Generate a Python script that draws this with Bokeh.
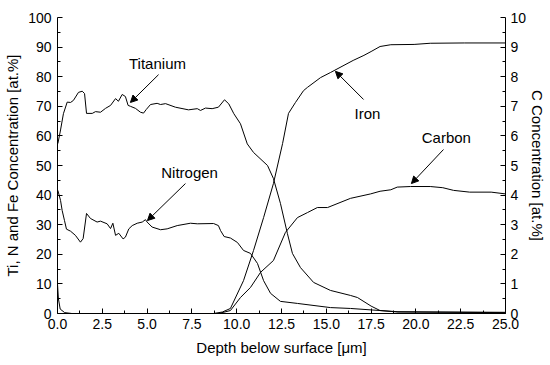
from bokeh.plotting import figure
from bokeh.models import (Range1d, LinearAxis, FixedTicker, PrintfTickFormatter,
                          Arrow, NormalHead, Label)
from bokeh.embed import file_html
from bokeh.resources import INLINE

# ---------------- data ----------------
ti_x = [0.02, 0.17, 0.33, 0.54, 0.73, 0.89, 1.17, 1.38, 1.51, 1.62, 1.94, 2.12, 2.40, 2.68,
        2.96, 3.24, 3.40, 3.61, 3.79, 3.94, 4.07, 4.35, 4.63, 4.80, 4.95, 5.19, 5.56, 5.75,
        6.03, 6.58, 7.31, 7.80, 7.98, 8.26, 8.63, 8.98, 9.32, 9.56, 9.84, 10.21, 10.59,
        10.94, 11.72, 12.05, 12.44, 12.83, 13.11, 13.56, 14.29, 15.23, 16.35, 16.74, 17.5,
        18.0, 19.0, 25.0]
ti_y = [57.4, 62.0, 67.5, 71.4, 71.3, 72.0, 74.7, 75.1, 74.3, 67.6, 67.6, 68.2, 68.0, 69.3,
        70.3, 72.6, 71.7, 74.0, 73.3, 70.3, 70.0, 69.3, 68.0, 67.7, 68.9, 70.6, 71.0, 70.6,
        70.9, 69.7, 68.8, 69.2, 68.6, 69.4, 69.2, 69.7, 72.2, 70.8, 67.5, 64.1, 57.3,
        54.4, 50.0, 45.6, 37.2, 27.0, 20.3, 15.5, 10.5, 7.8, 6.1, 5.4, 2.5,
        1.0, 0.5, 0.3]

n_x = [0.02, 0.17, 0.26, 0.39, 0.50, 0.73, 1.00, 1.28, 1.43, 1.62, 1.84, 2.21, 2.40, 2.77,
       2.96, 3.09, 3.24, 3.42, 3.66, 3.79, 3.98, 4.17, 4.45, 4.73, 4.91, 5.00, 5.28, 5.75,
       6.12, 6.68, 7.42, 7.80, 8.71, 8.98, 9.10, 9.30, 9.65, 10.04, 10.38, 10.77, 11.16,
       11.50, 11.89, 12.44, 13.39, 15.23, 16.35, 18.0, 19.0, 25.0]
n_y = [41.6, 38.2, 34.8, 31.4, 28.5, 27.8, 26.4, 24.1, 25.3, 33.8, 32.1, 30.9, 31.2, 30.3,
       28.7, 30.5, 26.4, 27.1, 25.2, 25.8, 28.6, 29.7, 30.5, 30.9, 31.7, 30.9, 29.2, 28.3,
       28.6, 29.7, 30.5, 30.3, 30.4, 29.7, 28.0, 26.0, 25.5, 24.0, 21.3, 20.3, 16.9,
       11.1, 6.8, 4.1, 3.4, 2.0, 1.7, 1.0, 0.6, 0.4]

fe_x = [0.0, 8.7, 9.2, 9.65, 10.38, 10.94, 11.50, 12.05, 12.56, 12.89, 13.28, 13.73, 13.95,
        14.68, 15.23, 16.5, 17.1, 17.5, 18.0, 18.6, 19.9, 20.8, 22.7, 25.0]
fe_y = [0.0, 0.0, 0.5, 1.7, 11.1, 21.3, 32.4, 43.9, 57.4, 67.6, 71.3, 75.3, 76.4,
        79.7, 81.4, 85.5, 87.2, 88.5, 90.2, 90.8, 90.9, 91.3, 91.4, 91.4]

c_x = [0.0, 0.05, 0.15, 0.40, 0.80, 9.0, 9.65, 10.21, 10.77, 11.33, 12.05, 12.72, 13.39,
       13.95, 14.5, 15.07, 16.35, 17.47, 18.0, 18.6, 18.96, 19.7, 20.8, 21.5, 22.1, 23.0,
       24.2, 25.0]
c_y = [1.0, 0.5, 0.15, 0.03, 0.0, 0.0, 0.1, 0.54, 0.88, 1.39, 1.79, 2.74, 3.24,
       3.41, 3.58, 3.58, 3.89, 4.04, 4.13, 4.18, 4.27, 4.29, 4.29, 4.25, 4.16, 4.10,
       4.10, 4.04]

x_ticks = [0, 2.5, 5, 7.5, 10, 12.5, 15, 17.5, 20, 22.5, 25]
y_ticks = [0, 10, 20, 30, 40, 50, 60, 70, 80, 90, 100]
c_ticks = [0, 1, 2, 3, 4, 5, 6, 7, 8, 9, 10]

names = ["Titanium", "Nitrogen", "Iron", "Carbon"]
label_pos = [(5.58, 84.5), (7.37, 47.6), (17.3, 67.6), (21.7, 59.5)]
arrow_from = [(5.64, 80.7), (7.14, 43.9), (17.08, 72.3), (21.54, 55.4)]
arrow_to = [(4.07, 71.3), (5.02, 31.4), (15.51, 81.8), (19.75, 43.9)]

# ---------------- figure ----------------
FONT = "Liberation Sans"
p = figure(width=550, height=365, output_backend="svg", toolbar_location=None,
           x_range=Range1d(0, 25), y_range=Range1d(0, 100),
           min_border_left=57, min_border_right=45, min_border_top=17, min_border_bottom=52)
p.outline_line_color = None
p.grid.visible = False
p.background_fill_color = "white"
p.border_fill_color = "white"
p.extra_y_ranges = {"c": Range1d(0, 10)}

def style(ax, title):
    ax.axis_label = title
    ax.axis_label_text_font = FONT
    ax.axis_label_text_font_size = "15px"
    ax.axis_label_text_font_style = "normal"
    ax.axis_label_text_color = "black"
    ax.major_label_text_font = FONT
    ax.major_label_text_font_size = "14px"
    ax.major_label_text_color = "black"
    ax.axis_line_color = "black"
    ax.major_tick_line_color = "black"
    ax.minor_tick_line_color = "black"
    ax.major_tick_in = 5
    ax.major_tick_out = 0
    ax.minor_tick_in = 3
    ax.minor_tick_out = 0
    ax.major_label_standoff = 6
    ax.axis_label_standoff = 4

xa = p.xaxis[0]
xa.ticker = FixedTicker(ticks=x_ticks, minor_ticks=[t + 1.25 for t in x_ticks[:-1]])
xa.formatter = PrintfTickFormatter(format="%.1f")
style(xa, "Depth below surface [μm]")
xa.major_label_standoff = 5
xa.axis_label_standoff = 7

ya = p.yaxis[0]
ya.ticker = FixedTicker(ticks=y_ticks, minor_ticks=[t + 5 for t in y_ticks[:-1]])
style(ya, "Ti, N and Fe Concentration [at.%]")

ra = LinearAxis(y_range_name="c")
ra.ticker = FixedTicker(ticks=c_ticks, minor_ticks=[t + 0.5 for t in c_ticks[:-1]])
style(ra, "C Concentration [at.%]")
ra.major_label_standoff = 5
ra.axis_label_standoff = 0
p.add_layout(ra, "right")

for xs, ys in [(ti_x, ti_y), (n_x, n_y), (fe_x, fe_y)]:
    p.line(xs, ys, line_color="black", line_width=1)
p.line(c_x, c_y, line_color="black", line_width=1, y_range_name="c")

for name, (lx, ly), (ax0, ay0), (ax1, ay1) in zip(names, label_pos, arrow_from, arrow_to):
    p.add_layout(Label(x=lx, y=ly, text=name, text_font=FONT, text_font_size="15px",
                       text_align="center", text_baseline="middle", text_color="black"))
    p.add_layout(Arrow(x_start=ax0, y_start=ay0, x_end=ax1, y_end=ay1,
                       line_color="black", line_width=1,
                       end=NormalHead(size=7, fill_color="black", line_color="black")))

open("out.html", "w").write(file_html(p, INLINE))
